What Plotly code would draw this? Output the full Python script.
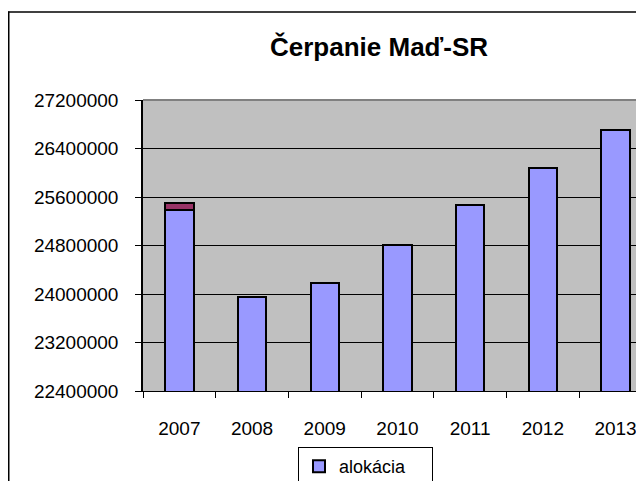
import plotly.graph_objects as go

years = ["2007", "2008", "2009", "2010", "2011", "2012", "2013"]
alokacia = [25385000, 23950000, 24181000, 24816000, 25465000, 26078000, 26702000]
cerpanie = [115000, 0, 0, 0, 0, 0, 0]
y_ticks = [22400000, 23200000, 24000000, 24800000, 25600000, 26400000, 27200000]

# the page body adds an 8px offset; figure coords = page coords - 8
W, H = 636, 473
L, R, T, B = 135, 0, 92, 90
pw = W - L - R
ph = H - T - B

fig = go.Figure()
fig.add_trace(go.Bar(x=years, y=alokacia, name="alokácia", width=0.39,
                     marker=dict(color="#9999FF", line=dict(color="#000000", width=2))))
fig.add_trace(go.Bar(x=years, y=cerpanie, name="čerpanie", width=0.39, showlegend=False,
                     marker=dict(color="#993366", line=dict(color="#000000", width=2))))

font = "Liberation Sans, Arial, sans-serif"
def px(yp):
    return (T + ph - yp) / ph

fig.update_layout(
    width=W, height=H, barmode="stack",
    margin=dict(l=L, r=R, t=T, b=B, autoexpand=False),
    paper_bgcolor="#FFFFFF", plot_bgcolor="#C0C0C0",
    font=dict(family=font, size=19, color="#000000"),
    showlegend=True,
    legend=dict(orientation="h", xref="container", yref="container",
                x=290 / W, xanchor="left",
                y=1 - 439 / H, yanchor="top",
                bordercolor="#000000", borderwidth=1, bgcolor="#FFFFFF",
                font=dict(size=18), entrywidth=88, entrywidthmode="pixels"),
    xaxis=dict(range=[-0.5, -0.5 + pw / 72.7], tickson="boundaries", ticks="outside",
               ticklen=6, tickcolor="#000000", showline=True, linecolor="#000000",
               linewidth=1, showgrid=False, ticklabelstandoff=20,
               tickfont=dict(size=19)),
    yaxis=dict(range=[22400000, 27200000], tickvals=y_ticks, tickformat="d",
               ticks="outside", ticklen=6, tickcolor="#000000", showline=True,
               linecolor="#000000", linewidth=1.5, showgrid=True, gridcolor="#000000",
               gridwidth=1, zeroline=False, ticklabelstandoff=13,
               tickfont=dict(size=19)),
    shapes=[
        dict(type="line", xref="paper", yref="paper", x0=0, x1=1, y0=1, y1=1,
             line=dict(color="#808080", width=2)),
        dict(type="line", xref="paper", yref="paper",
             x0=(0.75 - L) / pw, x1=(0.75 - L) / pw, y0=px(480), y1=px(3.5),
             line=dict(color="#000000", width=1.5)),
        dict(type="line", xref="paper", yref="paper",
             x0=(0 - L) / pw, x1=(636 - L) / pw, y0=px(4), y1=px(4),
             line=dict(color="#000000", width=1.5)),
    ],
    annotations=[
        dict(text="<b>Čerpanie Maď-SR</b>", xref="paper", yref="paper",
             x=(371 - L) / pw, y=px(39), xanchor="center", yanchor="middle",
             showarrow=False, font=dict(size=26, family=font)),
    ],
)

fig.write_html("out.html")
